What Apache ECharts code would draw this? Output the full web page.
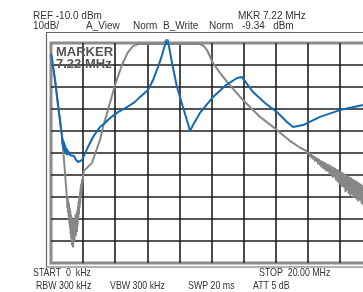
<!DOCTYPE html>
<html>
<head>
<meta charset="utf-8">
<script src="https://cdn.jsdelivr.net/npm/echarts@6/dist/echarts.min.js"></script>
<style>
  html, body { margin: 0; padding: 0; background: #fff; overflow: hidden; }
  /* the analyser screen is cut off at the right edge, so the canvas runs past the window */
  #chart { width: 384px; height: 292px; }
</style>
</head>
<body>
<div id="chart"></div>
<script>
// axis scale: 0..20 MHz, 2 MHz/div ; -110..-10 dBm, 10 dB/div
var freqMin = 0, freqMax = 20, freqStep = 2;
var levelMin = -110, levelMax = -10, levelStep = 10;

// marker readout
var markerFreq = 7.22;
var markerLevel = -9.34;

// header / footer texts
var headerLeft = ['REF -10.0 dBm', '10dB/'];
var headerModes = ['A_View', 'Norm', 'B_Write', 'Norm'];
var headerRight = ['MKR 7.22 MHz', '-9.34   dBm'];
var footerTop = ['START  0  kHz', 'STOP  20.00 MHz'];
var footerBottom = ['RBW 300 kHz', 'VBW 300 kHz', 'SWP 20 ms', 'ATT 5 dB'];

// trace A (grey, filter response) [MHz, dBm]
var traceA = [
    [0, -15.9], [0.25, -26.8], [0.44, -38.2], [0.69, -52.7], [0.81, -63.2], [0.93, -74.5],
    [1.00, -81.4], [1.02, -85], [1.04, -80], [1.06, -87], [1.08, -82], [1.10, -89],
    [1.12, -83], [1.14, -92], [1.16, -85], [1.18, -94], [1.20, -86], [1.22, -97],
    [1.24, -88], [1.26, -99], [1.28, -89], [1.30, -102], [1.32, -90], [1.34, -101],
    [1.36, -91], [1.38, -103], [1.40, -93], [1.42, -99], [1.44, -90], [1.46, -100],
    [1.48, -91], [1.50, -97], [1.52, -88], [1.54, -98], [1.56, -89], [1.58, -95],
    [1.60, -87], [1.62, -96], [1.64, -86], [1.66, -93], [1.68, -84], [1.70, -90],
    [1.72, -82], [1.74, -88], [1.76, -80], [1.78, -85], [1.80, -78], [1.82, -83],
    [1.84, -76], [1.86, -80], [1.88, -74], [1.90, -77], [1.93, -72], [1.96, -74],
    [2.0, -70], [2.06, -68],
    [2.55, -64.5], [3.05, -54.1], [3.24, -48.2], [3.55, -40.5], [3.99, -29.1],
    [4.42, -20], [4.8, -14.1], [5.11, -11.4], [5.42, -10.5], [9.28, -10.5],
    [9.53, -11.4], [9.72, -13.2], [10.09, -19.1], [10.53, -23.6], [11.03, -28.2],
    [11.96, -35.9], [13.02, -43.6], [14.08, -49.5], [14.89, -54.5], [15.5, -57.5]
];
// noisy tail of trace A
var traceATail = [
    [15.9, -59.0], [15.95, -60.2], [16.0, -59.4], [16.05, -61.0], [16.1, -60.0],
    [16.15, -61.8], [16.2, -60.3], [16.25, -62.4], [16.3, -61.0], [16.35, -63.0],
    [16.4, -61.4], [16.45, -63.8], [16.5, -62.0], [16.55, -64.0], [16.6, -62.2],
    [16.65, -65.2], [16.7, -62.8], [16.75, -65.6], [16.8, -63.3], [16.85, -66.5],
    [16.9, -63.7], [16.95, -67.0], [17.0, -64.0], [17.05, -67.6], [17.1, -64.4],
    [17.15, -68.2], [17.2, -64.9], [17.25, -68.5], [17.3, -65.2], [17.35, -69.4],
    [17.4, -65.6], [17.45, -70.0], [17.5, -66.0], [17.55, -71.2], [17.6, -66.4],
    [17.65, -71.0], [17.7, -66.9], [17.75, -72.4], [17.8, -67.3], [17.85, -73.0],
    [17.9, -67.6], [17.95, -73.8], [18.0, -68.2], [18.05, -74.6], [18.1, -68.6],
    [18.15, -75.4], [18.2, -69.0], [18.25, -75.6], [18.3, -69.4], [18.35, -77.8],
    [18.4, -70.0], [18.45, -77.0], [18.5, -70.4], [18.55, -78.6], [18.6, -70.8],
    [18.65, -79.8], [18.7, -71.2], [18.75, -78.8], [18.8, -71.8], [18.85, -80.4],
    [18.9, -72.2], [18.95, -80.0], [19.0, -72.6], [19.05, -81.2], [19.1, -73.0],
    [19.15, -82.0], [19.2, -73.6], [19.25, -81.6], [19.3, -74.0], [19.35, -83.0],
    [19.4, -74.6], [19.45, -83.6], [19.5, -75.2], [19.55, -84.0], [19.6, -75.8],
    [19.65, -84.8], [19.7, -76.4], [19.75, -85.2], [19.8, -77.0], [19.85, -85.8],
    [19.9, -77.6], [19.95, -86.2], [20.0, -78.0]
];

// trace B (blue, write) [MHz, dBm]
var traceB = [
    [0, -15.0], [0.06, -16.8], [0.25, -26.8], [0.44, -38.2], [0.69, -52.7],
    [0.71, -56], [0.73, -53.5], [0.75, -57.5], [0.77, -54.5], [0.79, -58.5], [0.81, -55],
    [0.83, -59], [0.85, -56], [0.87, -60], [0.89, -56.5], [0.91, -60.5], [0.93, -57.5],
    [0.95, -60.5], [0.97, -58], [0.99, -61], [1.01, -58.5], [1.04, -61], [1.07, -59],
    [1.10, -60.5], [1.15, -59.5], [1.2, -61], [1.3, -60.5], [1.43, -61.4], [1.55, -63],
    [1.68, -64.1], [1.8, -63.8], [1.93, -63.2], [2.1, -60.5], [2.3, -57.3],
    [2.62, -52.7], [3.05, -48.2], [3.36, -46.4], [3.68, -44.1], [4.17, -41.4],
    [4.74, -39.1], [5.2, -37], [5.55, -34.5], [6.04, -31.4], [6.36, -26.8],
    [6.67, -20.9], [6.92, -15.5], [7.1, -10.9], [7.22, -9.34], [7.35, -11.4],
    [7.54, -19.1], [7.85, -30], [8.22, -39.1], [8.54, -46.8], [8.66, -50],
    [8.85, -47.3], [9.28, -41.8], [10.1, -34.5], [10.84, -29.5], [11.59, -25.9],
    [11.9, -25.5], [12.59, -32.3], [13.33, -37.3], [14.08, -41.4], [14.7, -45.9],
    [15.08, -48.2], [15.7, -47.3], [16.76, -43.6], [18.0, -40.5], [19.44, -38.2],
    [20, -37]
];

var chart = echarts.init(document.getElementById('chart'));

var txtFont = "'Liberation Sans', Arial, sans-serif";
// header / footer text, anchored at its left-middle point
function label(x, y, text, extra, sx) {
    var st = { text: text, fill: '#333', font: '10px ' + txtFont, textVerticalAlign: 'middle' };
    for (var k in extra) st[k] = extra[k];
    return { type: 'text', x: x, y: y, scaleX: sx || 1, z: 50, style: st };
}
var footStyle = { font: '10.5px ' + txtFont };

var option = {
    animation: false,
    backgroundColor: '#fff',
    grid: {
        left: 51, top: 43, width: 321, height: 220,
        show: true, borderColor: '#8c8c8c', borderWidth: 3, backgroundColor: 'transparent'
    },
    xAxis: {
        type: 'value', min: freqMin, max: freqMax, interval: freqStep,
        axisLine: { show: false }, axisTick: { show: false }, axisLabel: { show: false },
        splitLine: { show: true, showMinLine: false, showMaxLine: false, lineStyle: { color: '#1e1e1e', width: 1.6 } }
    },
    yAxis: {
        type: 'value', min: levelMin, max: levelMax, interval: levelStep,
        axisLine: { show: false }, axisTick: { show: false }, axisLabel: { show: false },
        splitLine: { show: true, showMinLine: false, showMaxLine: false, lineStyle: { color: '#1e1e1e', width: 1.6 } }
    },
    graphic: [
        // outer frame
        { type: 'rect', shape: { x: 46.5, y: 32.5, width: 400, height: 234.5 }, z: 1,
          style: { fill: 'none', stroke: '#666', lineWidth: 1.2 } },
        label(33, 16, headerLeft[0]),
        label(33, 26, headerLeft[1]),
        label(86, 26, headerModes[0]),
        label(133, 26, headerModes[1]),
        label(163, 26, headerModes[2]),
        label(209, 26, headerModes[3]),
        label(238, 16, headerRight[0]),
        label(242, 26, headerRight[1]),
        label(33, 273, footerTop[0], footStyle, 0.84),
        label(259, 273, footerTop[1], footStyle, 0.84),
        label(36, 286, footerBottom[0], footStyle, 0.84),
        label(110, 286, footerBottom[1], footStyle, 0.84),
        label(188, 286, footerBottom[2], footStyle, 0.84),
        label(253, 286, footerBottom[3], footStyle, 0.84),
        label(56, 52, 'MARKER', { fill: '#555', font: 'bold 13px ' + txtFont }),
        label(56, 64, markerFreq.toFixed(2) + ' MHz', { fill: '#555', font: 'bold 13px ' + txtFont })
    ],
    series: [
        {
            type: 'line', data: traceA, symbol: 'none', clip: true, z: 3,
            lineStyle: { color: '#878787', width: 2 }
        },
        {
            type: 'line', data: [traceA[traceA.length - 1]].concat(traceATail), symbol: 'none', clip: true, z: 3,
            lineStyle: { color: '#878787', width: 2 }
        },
        {
            type: 'line', data: traceB, symbol: 'none', clip: false, z: 4,
            lineStyle: { color: '#1469b3', width: 2 }
        },
        {
            type: 'scatter', data: [[markerFreq, markerLevel]], symbol: 'circle', symbolSize: 5,
            clip: false, z: 5, itemStyle: { color: '#1469b3' }
        }
    ]
};
chart.setOption(option);
</script>
</body>
</html>
